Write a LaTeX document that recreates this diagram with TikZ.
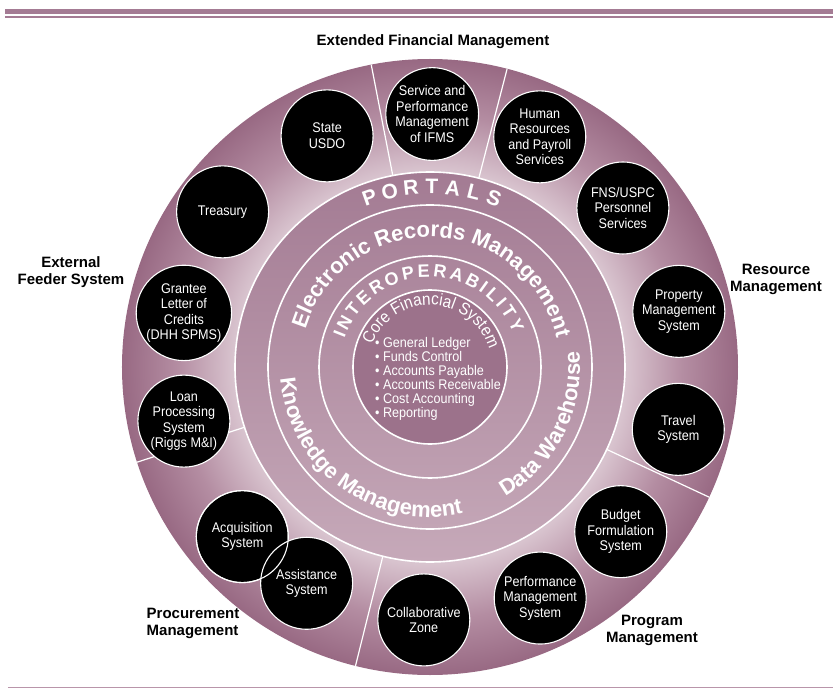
\documentclass[tikz,border=0pt]{standalone}
\usepackage{fontspec}
\setmainfont{Liberation Sans}
\newfontfamily\narrowfont[FakeStretch=0.9]{Liberation Sans}
\usetikzlibrary{decorations.text}

\definecolor{barmauve}{HTML}{A47B94}
\definecolor{linemauve}{HTML}{B995AA}
\definecolor{disclight}{HTML}{D8C3CE}
\definecolor{discmid}{HTML}{B48DA2}
\definecolor{discdark}{HTML}{986983}
\definecolor{ringtop}{HTML}{A37B93}
\definecolor{ringbottom}{HTML}{C6A9B9}
\definecolor{corefill}{HTML}{9C728B}

\pgfdeclareradialshading{discshade}{\pgfpoint{0bp}{0bp}}{color(0bp)=(disclight); color(16bp)=(disclight); color(20.5bp)=(discmid); color(25bp)=(discdark); color(50bp)=(discdark)}

\newcommand\ringfont{\bfseries\fontsize{22}{24}\selectfont}
\newcommand\corefont{\narrowfont\fontsize{17}{18}\selectfont}

\tikzset{
  sysnode/.style={circle, fill=black, draw=white, line width=1.1pt, minimum size=92pt, inner sep=0pt, text=white, align=center, font=\narrowfont\fontsize{14}{15.5}\selectfont},
  ringline/.style={draw=white, line width=1.6pt},
  divider/.style={draw=white, line width=1.2pt},
  grouplabel/.style={font=\bfseries\fontsize{15}{17}\selectfont, align=center},
  ringletter/.style={text=white, inner sep=0pt, anchor=base},
  arctext/.style={decorate, decoration={text along path, text align=center, text color=white, text={#1}}}
}

\begin{document}
\begin{tikzpicture}[x=1pt, y=1pt]
\useasboundingbox (-430,-324) rectangle (403,367);

% rules at top and bottom
\fill[barmauve] (-425,353) rectangle (403,358);
\draw[barmauve, line width=1.2pt] (-425,350) -- (403,350);
\draw[linemauve, line width=1.2pt] (-422,-320.5) -- (403,-320.5);

% disc and rings
\shade[shading=discshade] (0,0) circle (308);
\shade[top color=ringtop, bottom color=ringbottom] (0,0) circle (195);
\fill[corefill] (0,0) circle (77);
\foreach \r in {195,162,111,77}
  \draw[ringline] (0,0) circle (\r);

% dividers between the groups
\foreach \a in {101,75.5,-25,256,198}
  \draw[divider] (\a:195) -- (\a:308);

% systems round the rim
\node[sysnode] (state) at (114:253) {State\\USDO};
\node[sysnode] (service) at (89.5:253) {Service and\\Performance\\Management\\of IFMS};
\node[sysnode] (hr) at (64.5:255) {Human\\Resources\\and Payroll\\Services};
\node[sysnode] (fns) at (39.5:250) {FNS/USPC\\Personnel\\Services};
\node[sysnode] (property) at (12.6:255) {Property\\Management\\System};
\node[sysnode] (travel) at (-14.1:256) {Travel\\System};
\node[sysnode] (budget) at (-40.8:252) {Budget\\Formulation\\System};
\node[sysnode] (perf) at (-64.5:256) {Performance\\Management\\System};
\node[sysnode] (collab) at (-91.4:253) {Collaborative\\Zone};
\node[sysnode] (acq) at (222.1:253) {Acquisition\\System};
\node[sysnode] (assist) at (240.3:249) {Assistance\\System};
\draw[white, line width=1.1pt] (acq.center) circle (46);
\node[sysnode] (loan) at (192.4:252) {Loan\\Processing\\System\\(Riggs M\&I)};
\node[sysnode] (grantee) at (167.6:252) {Grantee\\Letter of\\Credits\\(DHH SPMS)};
\node[sysnode] (treasury) at (143.2:259) {Treasury};

% ring titles
\foreach \ch/\a in {P/109.6, O/102.9, R/96.1, T/89.4, A/82.7, L/75.9, S/69.2}
  \node[ringletter, font=\bfseries\fontsize{21}{21}\selectfont, rotate=\a-90] at (\a:173) {\ch};
\path[arctext={|\ringfont|Electronic Records Management}] (170:130) arc[start angle=170, end angle=6, radius=130];
\foreach \ch/\a in {I/158.3, N/150.7, T/141.2, E/131.9, R/122.1, O/111.6, P/101.4, E/91.9, R/82.1, A/71.9, B/61.8, I/54.1, L/47.1, I/40.2, T/33.2, Y/24.0}
  \node[ringletter, font=\bfseries\fontsize{18}{18}\selectfont, rotate=\a-90] at (\a+2:90) {\ch};
\path[arctext={|\corefont|Core Financial System}] (173:62) arc[start angle=173, end angle=3, radius=62];
\path[arctext={|\ringfont|Knowledge Management}] (155:150) arc[start angle=155, end angle=312, radius=150];
\path[arctext={|\ringfont|Data Warehouse}] (-100:150) arc[start angle=-100, end angle=46, radius=150];

% core list
\node[text=white, align=left, font=\narrowfont\fontsize{14}{14}\selectfont] (corelist) at (8,-12)
  {• General Ledger\\• Funds Control\\• Accounts Payable\\• Accounts Receivable\\• Cost Accounting\\• Reporting};

% group names
\node[grouplabel] (extfin) at (3,325) {Extended Financial Management};
\node[grouplabel] (feeder) at (-359,95) {External\\Feeder System};
\node[grouplabel] (resource) at (346,88) {Resource\\Management};
\node[grouplabel, align=left] (procure) at (-237,-256) {Procurement\\Management};
\node[grouplabel] (program) at (222,-263) {Program\\Management};
\end{tikzpicture}
\end{document}
